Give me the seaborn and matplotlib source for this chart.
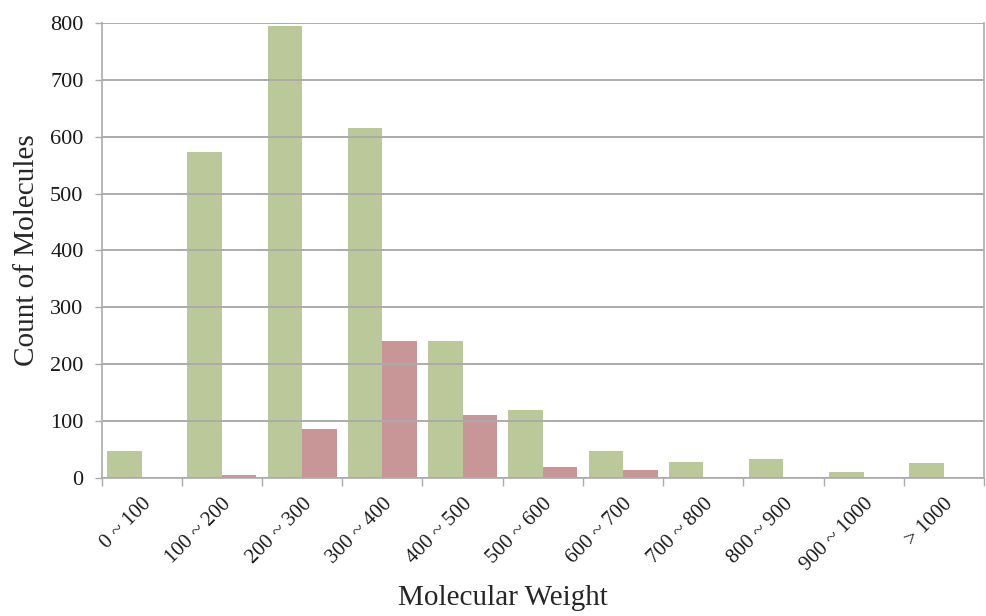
import numpy as np
import pandas as pd
import seaborn as sns
import matplotlib.pyplot as plt

categories = ['0 ~ 100', '100 ~ 200', '200 ~ 300', '300 ~ 400', '400 ~ 500',
              '500 ~ 600', '600 ~ 700', '700 ~ 800', '800 ~ 900', '900 ~ 1000', '> 1000']
green_counts = [48, 573, 794, 615, 241, 120, 48, 28, 34, 11, 26]
red_counts = [0, 5, 87, 241, 110, 19, 14, 0, 0, 1, 0]
series_names = ['Series 1', 'Series 2']
y_ticks = [0, 100, 200, 300, 400, 500, 600, 700, 800]

df = pd.DataFrame({
    'category': categories * 2,
    'count': green_counts + red_counts,
    'series': [series_names[0]] * len(categories) + [series_names[1]] * len(categories),
})

sns.set_theme(style='white')
plt.rcParams['font.family'] = ['Liberation Serif', 'DejaVu Serif']
plt.rcParams['text.color'] = '#1a1a1a'
plt.rcParams['xtick.color'] = '#1a1a1a'
plt.rcParams['ytick.color'] = '#1a1a1a'

fig = plt.figure(figsize=(9.86, 6.16), dpi=100)
ax = fig.add_axes([0.103, 0.224, 0.895, 0.739])

sns.barplot(data=df, x='category', y='count', hue='series', order=categories,
            palette=['#bbc99a', '#c99697'], width=0.86, saturation=1,
            legend=False, ax=ax, linewidth=0)

ax.set_xlim(-0.5, len(categories) - 0.5)
ax.set_ylim(0, 800)
ax.set_yticks(y_ticks)
ax.yaxis.grid(True, color='#ababab', linewidth=1.4)
ax.set_axisbelow(False)

for s in ['left', 'bottom', 'right']:
    ax.spines[s].set_visible(True)
    ax.spines[s].set_color('#ababab')
    ax.spines[s].set_linewidth(1.2)
ax.spines['top'].set_visible(False)

ax.tick_params(axis='y', which='major', left=True, length=5, width=1, color='#ababab',
               labelsize=16, pad=8)
ax.set_xticks(np.arange(len(categories)))
ax.set_xticklabels(categories, rotation=45, ha='right', rotation_mode='anchor')
ax.tick_params(axis='x', which='major', length=0, labelsize=15, pad=12)
ax.set_xticks(np.arange(-0.5, len(categories)), minor=True)
ax.tick_params(axis='x', which='minor', bottom=True, length=6, width=1, color='#ababab')

ax.set_xlabel('Molecular Weight', fontsize=21, va='center')
ax.set_ylabel('Count of Molecules', fontsize=21, va='center')
ax.xaxis.set_label_coords(0.455, -0.263)
ax.yaxis.set_label_coords(-0.084, 0.5)

fig.savefig('out.png', dpi=100)
